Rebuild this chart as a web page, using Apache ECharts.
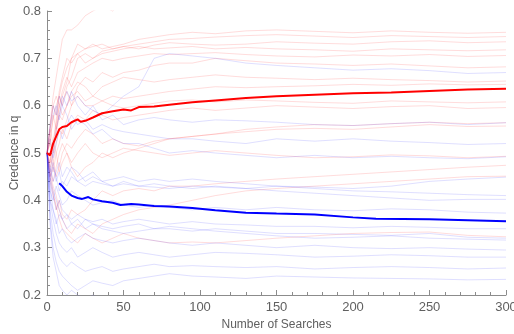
<!DOCTYPE html>
<html>
<head>
<meta charset="utf-8">
<script src="https://cdn.jsdelivr.net/npm/echarts@6/dist/echarts.min.js"></script>
<style>
  html, body { margin: 0; padding: 0; background: #fff; }
  #chart { width: 514px; height: 334px; }
</style>
</head>
<body>
<div id="chart"></div>
<script>
// sample positions (number of searches) for the faint single runs
const xs = [0, 2, 4, 6, 8, 10, 13, 16, 20, 25, 30, 36, 43, 50, 60, 70, 80, 95, 110, 130, 150, 175, 200, 225, 250, 275, 300]

// single runs, credence in q read at xs
const redRuns = [
  [0.5,0.55,0.6,0.58,0.63,0.66,0.7,0.69,0.71,0.72,0.73,0.72,0.725,0.73,0.74,0.745,0.75,0.755,0.752,0.758,0.76,0.757,0.754,0.758,0.755,0.753,0.755],
  [0.5,0.53,0.57,0.6,0.62,0.6,0.64,0.66,0.7,0.71,0.7,0.715,0.72,0.725,0.73,0.735,0.74,0.742,0.745,0.748,0.75,0.747,0.744,0.748,0.746,0.744,0.746],
  [0.5,0.48,0.52,0.56,0.6,0.62,0.65,0.7,0.73,0.72,0.725,0.73,0.72,0.725,0.72,0.728,0.733,0.73,0.728,0.73,0.735,0.732,0.73,0.735,0.737,0.733,0.735],
  [0.5,0.55,0.52,0.57,0.62,0.65,0.68,0.7,0.71,0.69,0.7,0.71,0.715,0.72,0.725,0.72,0.722,0.725,0.72,0.723,0.72,0.718,0.715,0.72,0.718,0.716,0.718],
  [0.5,0.52,0.58,0.55,0.6,0.63,0.66,0.64,0.67,0.68,0.69,0.7,0.695,0.7,0.705,0.71,0.708,0.71,0.712,0.708,0.705,0.703,0.707,0.705,0.708,0.704,0.706],
  [0.5,0.47,0.5,0.54,0.58,0.61,0.63,0.6,0.64,0.66,0.65,0.67,0.66,0.67,0.675,0.685,0.69,0.69,0.7,0.695,0.69,0.688,0.685,0.688,0.684,0.68,0.682],
  [0.5,0.53,0.5,0.55,0.58,0.57,0.6,0.62,0.63,0.61,0.62,0.64,0.65,0.66,0.655,0.65,0.655,0.66,0.665,0.66,0.658,0.655,0.658,0.655,0.653,0.65,0.652],
  [0.5,0.45,0.48,0.52,0.55,0.54,0.57,0.6,0.62,0.6,0.6,0.61,0.62,0.615,0.62,0.625,0.63,0.635,0.64,0.638,0.64,0.642,0.645,0.643,0.646,0.644,0.645],
  [0.5,0.55,0.6,0.62,0.6,0.58,0.6,0.63,0.65,0.64,0.62,0.61,0.6,0.595,0.6,0.605,0.61,0.612,0.608,0.612,0.61,0.607,0.605,0.61,0.608,0.606,0.608],
  [0.5,0.5,0.46,0.5,0.52,0.55,0.53,0.56,0.58,0.57,0.59,0.58,0.57,0.575,0.58,0.585,0.59,0.595,0.59,0.595,0.6,0.597,0.594,0.598,0.6,0.594,0.596],
  [0.5,0.52,0.48,0.45,0.47,0.5,0.52,0.51,0.53,0.55,0.54,0.52,0.53,0.52,0.515,0.525,0.53,0.535,0.54,0.545,0.55,0.552,0.55,0.555,0.56,0.556,0.557],
  [0.5,0.47,0.44,0.47,0.5,0.52,0.5,0.48,0.5,0.52,0.5,0.49,0.5,0.51,0.505,0.5,0.495,0.5,0.505,0.5,0.495,0.49,0.492,0.496,0.494,0.49,0.493],
  [0.5,0.45,0.42,0.38,0.4,0.37,0.36,0.38,0.37,0.38,0.4,0.42,0.41,0.42,0.425,0.42,0.43,0.43,0.435,0.44,0.445,0.45,0.455,0.46,0.465,0.47,0.474],
  [0.5,0.46,0.43,0.41,0.38,0.36,0.34,0.33,0.35,0.34,0.33,0.35,0.36,0.37,0.38,0.385,0.39,0.4,0.41,0.42,0.425,0.43,0.435,0.44,0.445,0.45,0.451],
  [0.5,0.44,0.41,0.39,0.36,0.34,0.33,0.32,0.31,0.33,0.32,0.31,0.32,0.33,0.32,0.315,0.31,0.312,0.31,0.315,0.32,0.325,0.33,0.332,0.333,0.326,0.323],
  [0.5,0.56,0.62,0.66,0.7,0.74,0.76,0.76,0.77,0.79,0.8,0.81,0.8,0.82,0.83,0.84,0.845,0.85,0.85,0.85,0.85,0.85,0.85,0.85,0.85,0.85,0.85],
  [0.5,0.48,0.52,0.5,0.46,0.48,0.5,0.47,0.45,0.47,0.48,0.5,0.49,0.5,0.51,0.52,0.53,0.535,0.54,0.55,0.555,0.56,0.558,0.562,0.565,0.562,0.564]
]

const blueRuns = [
  [0.5,0.56,0.6,0.58,0.62,0.6,0.63,0.61,0.62,0.6,0.59,0.58,0.6,0.62,0.64,0.7,0.71,0.705,0.7,0.69,0.685,0.68,0.675,0.678,0.674,0.668,0.67],
  [0.5,0.46,0.5,0.55,0.58,0.62,0.6,0.63,0.6,0.58,0.6,0.57,0.58,0.56,0.57,0.575,0.57,0.565,0.57,0.568,0.565,0.56,0.558,0.562,0.565,0.56,0.564],
  [0.5,0.53,0.49,0.52,0.55,0.53,0.56,0.58,0.56,0.57,0.55,0.56,0.55,0.545,0.54,0.535,0.53,0.53,0.525,0.52,0.53,0.525,0.53,0.525,0.522,0.518,0.52],
  [0.5,0.55,0.58,0.6,0.57,0.6,0.58,0.55,0.57,0.56,0.54,0.55,0.53,0.52,0.52,0.51,0.5,0.505,0.5,0.495,0.49,0.495,0.49,0.493,0.49,0.488,0.492],
  [0.5,0.45,0.48,0.44,0.46,0.43,0.45,0.47,0.46,0.44,0.45,0.44,0.43,0.435,0.43,0.428,0.425,0.43,0.428,0.425,0.43,0.428,0.425,0.43,0.44,0.445,0.449],
  [0.5,0.44,0.47,0.45,0.42,0.44,0.43,0.45,0.44,0.43,0.44,0.435,0.43,0.44,0.43,0.435,0.43,0.425,0.43,0.425,0.42,0.415,0.41,0.405,0.4,0.402,0.402],
  [0.5,0.42,0.4,0.43,0.41,0.39,0.4,0.42,0.41,0.4,0.39,0.395,0.4,0.39,0.385,0.39,0.385,0.38,0.385,0.38,0.385,0.38,0.378,0.382,0.38,0.375,0.373],
  [0.5,0.4,0.38,0.35,0.37,0.36,0.34,0.35,0.36,0.34,0.35,0.345,0.34,0.345,0.35,0.34,0.34,0.335,0.34,0.335,0.33,0.33,0.328,0.326,0.33,0.322,0.32],
  [0.5,0.45,0.42,0.4,0.38,0.36,0.37,0.35,0.34,0.36,0.35,0.34,0.335,0.33,0.335,0.34,0.345,0.34,0.335,0.33,0.325,0.32,0.322,0.325,0.32,0.318,0.316],
  [0.5,0.43,0.38,0.36,0.33,0.34,0.32,0.31,0.32,0.33,0.32,0.315,0.31,0.315,0.32,0.315,0.31,0.305,0.31,0.305,0.3,0.305,0.3,0.298,0.3,0.297,0.295],
  [0.5,0.4,0.36,0.33,0.31,0.3,0.29,0.3,0.28,0.29,0.3,0.29,0.28,0.285,0.29,0.285,0.28,0.285,0.29,0.288,0.285,0.28,0.282,0.285,0.283,0.28,0.28],
  [0.5,0.38,0.33,0.3,0.28,0.27,0.26,0.27,0.26,0.25,0.255,0.26,0.25,0.255,0.26,0.265,0.26,0.262,0.26,0.258,0.26,0.255,0.258,0.26,0.258,0.255,0.257],
  [0.5,0.36,0.3,0.27,0.25,0.24,0.23,0.22,0.21,0.22,0.23,0.225,0.22,0.23,0.235,0.24,0.245,0.24,0.238,0.235,0.24,0.238,0.236,0.235,0.234,0.232,0.233],
  [0.5,0.35,0.28,0.25,0.22,0.21,0.2,0.21,0.2,0.19,0.2,0.19,0.18,0.18,0.17,0.17,0.17,0.168,0.166,0.165,0.164,0.163,0.162,0.162,0.161,0.16,0.16],
  [0.5,0.44,0.41,0.38,0.4,0.38,0.37,0.36,0.37,0.36,0.355,0.36,0.35,0.355,0.36,0.355,0.35,0.355,0.35,0.348,0.345,0.345,0.342,0.345,0.343,0.34,0.34],
  [0.5,0.47,0.44,0.46,0.48,0.45,0.47,0.46,0.44,0.45,0.46,0.44,0.445,0.45,0.44,0.445,0.44,0.445,0.44,0.435,0.43,0.425,0.42,0.418,0.415,0.412,0.41]
]

// averages over all runs
const redMeanX = [0, 2, 4, 6, 8, 10, 13, 16, 20, 22, 25, 30, 36, 43, 50, 55, 60, 70, 80, 95, 110, 130, 150, 175, 200, 225, 250, 275, 300]
const redMean = [0.5, 0.495, 0.52, 0.535, 0.55, 0.555, 0.557, 0.565, 0.571, 0.566, 0.568, 0.575, 0.584, 0.588, 0.592, 0.59, 0.597, 0.598, 0.602, 0.607, 0.611, 0.616, 0.62, 0.623, 0.626, 0.628, 0.631, 0.634, 0.636]
const blueMeanX = [8, 10, 13, 16, 20, 23, 27, 30, 36, 43, 48, 55, 60, 70, 80, 95, 110, 130, 150, 175, 200, 215, 250, 275, 300]
const blueMean = [0.436, 0.43, 0.418, 0.41, 0.405, 0.403, 0.407, 0.402, 0.398, 0.395, 0.39, 0.392, 0.391, 0.388, 0.387, 0.384, 0.379, 0.374, 0.372, 0.37, 0.364, 0.361, 0.36, 0.358, 0.356]

const FONT = 'Liberation Sans'
const AXIS_GREY = '#8c8c8c'

const chart = echarts.init(document.getElementById('chart'))

const pairs = (x, y) => x.map((v, i) => [v, y[i]])

const faint = (runs, color) => runs.map(r => ({
  type: 'line',
  data: pairs(xs, r),
  showSymbol: false,
  silent: true,
  lineStyle: { width: 1, color },
  z: 1
}))

const axisCommon = {
  axisLine: { show: true, lineStyle: { color: AXIS_GREY, width: 1 } },
  axisTick: { show: true, inside: true, length: 5, lineStyle: { color: AXIS_GREY } },
  minorTick: { show: true, splitNumber: 5, length: 3, lineStyle: { color: AXIS_GREY } },
  splitLine: { show: false },
  axisLabel: { color: '#606060', fontSize: 13, fontFamily: FONT },
  nameTextStyle: { color: '#606060', fontSize: 12, fontFamily: FONT },
  nameMoveOverlap: false
}

chart.setOption({
  animation: false,
  backgroundColor: '#fff',
  grid: { left: 47, right: 8, top: 11, bottom: 39, containLabel: false, outerBoundsMode: 'none' },
  xAxis: {
    type: 'value',
    min: 0, max: 300, interval: 50,
    name: 'Number of Searches',
    nameLocation: 'middle',
    nameGap: 24,
    ...axisCommon,
    axisLabel: { ...axisCommon.axisLabel, margin: 6 }
  },
  yAxis: {
    type: 'value',
    min: 0.2, max: 0.8, interval: 0.1,
    name: 'Credence in q',
    nameLocation: 'middle',
    nameGap: 26,
    ...axisCommon,
    axisLabel: { ...axisCommon.axisLabel, margin: 6, formatter: v => v.toFixed(1) }
  },
  series: [
    ...faint(redRuns, 'rgba(255,40,40,0.16)'),
    ...faint(blueRuns, 'rgba(40,40,255,0.15)'),
    {
      type: 'line', data: pairs(redMeanX, redMean), showSymbol: false, silent: true,
      lineStyle: { width: 2, color: '#ff0000' }, z: 5
    },
    {
      type: 'line', data: pairs(blueMeanX, blueMean), showSymbol: false, silent: true,
      lineStyle: { width: 2, color: '#0000ff' }, z: 5
    }
  ]
})
</script>
</body>
</html>
